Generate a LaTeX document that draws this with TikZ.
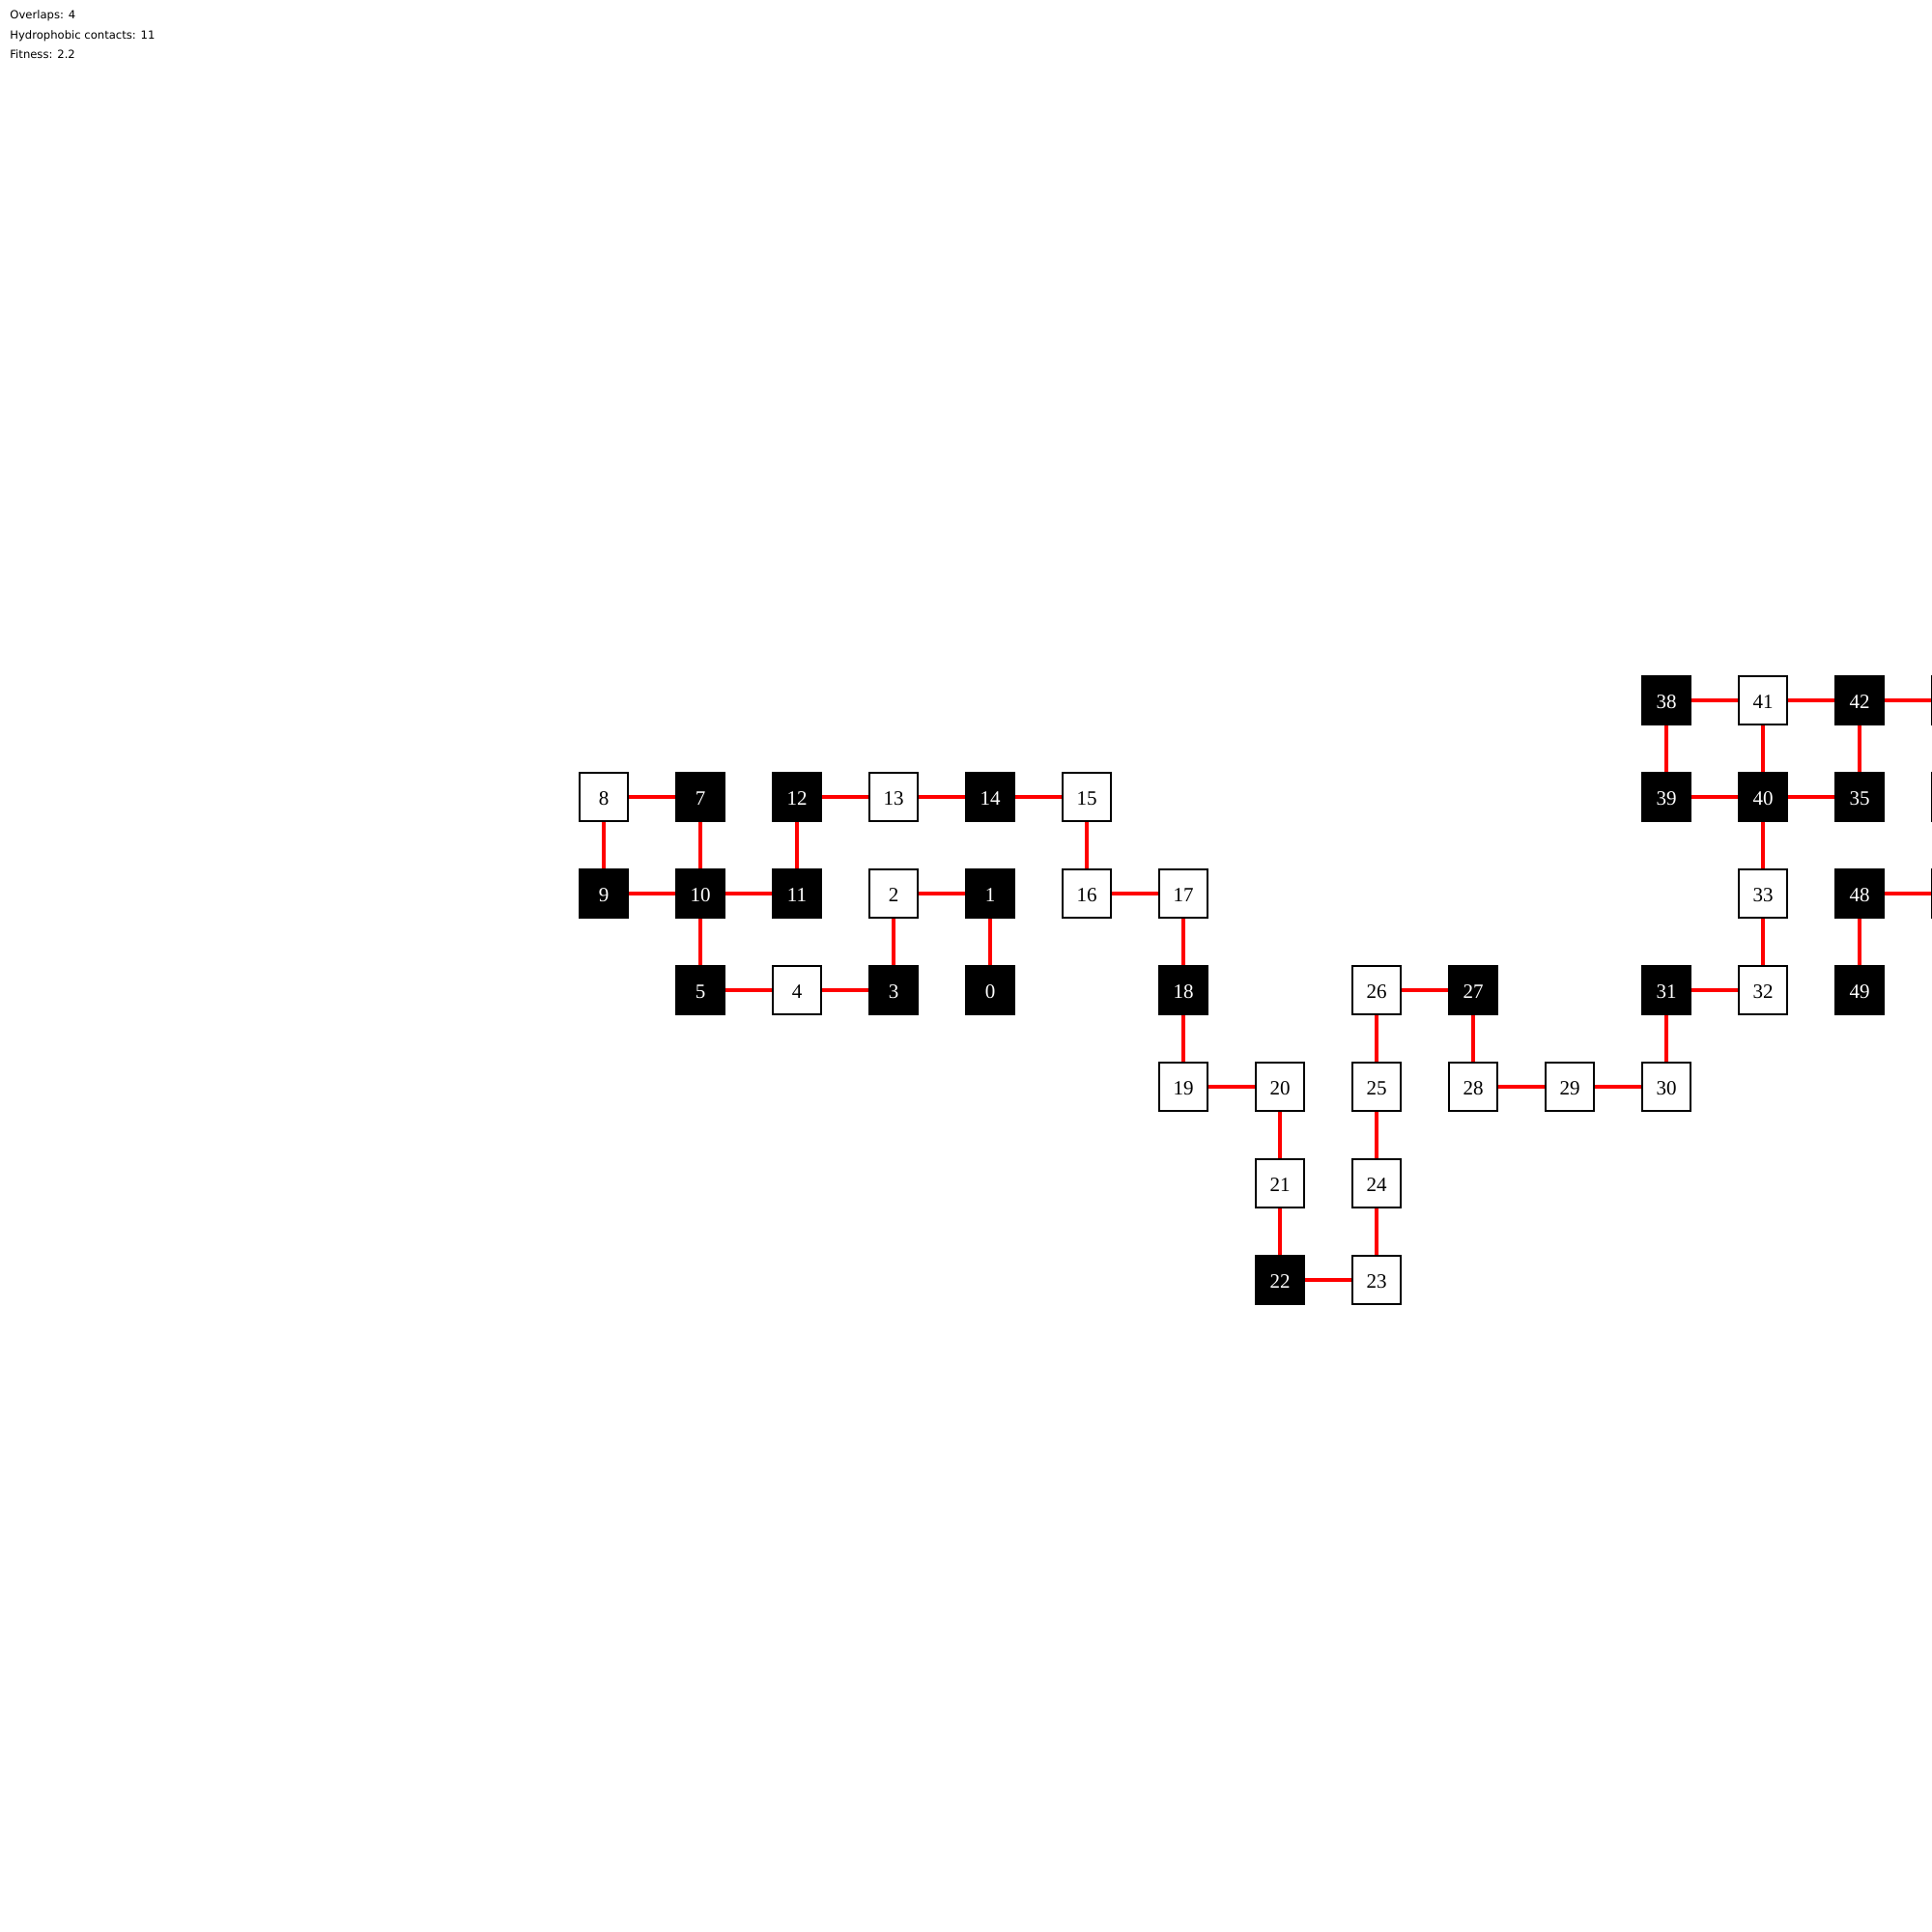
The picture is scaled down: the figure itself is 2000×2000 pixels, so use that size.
\documentclass[tikz,border=0pt]{standalone}
\usepackage{fontspec}
\setmainfont{Liberation Serif}
\newfontfamily\infofont{DejaVu Sans}
\begin{document}
\begin{tikzpicture}[x=0.5pt,y=-0.5pt,
  wbox/.style={draw=black, line width=0.8pt, fill=white, text=black, minimum size=25.2pt, inner sep=0pt, text height=8.6pt, text depth=0pt, font=\fontsize{10.5}{12}\selectfont},
  bbox/.style={wbox, fill=black, text=white},
  bond/.style={red, line width=2pt},
  info/.style={anchor=base west, inner sep=0pt, font=\infofont\fontsize{5.8}{7}\selectfont}]
\clip (0,0) rectangle (2000,2000);
\fill[white] (0,0) rectangle (2000,2000);
\node[info] (ov) at (10,20) {Overlaps: 4};
\node[info] (hc) at (10,40.5) {Hydrophobic contacts: 11};
\node[info] (fi) at (10,61) {Fitness: 2.2};
% hidden (overlapped) residues
\node[bbox] (n6)  at (725,925) {};
\node[bbox] (n34) at (1825,825) {};
\node[bbox] (n36) at (1925,725) {};
\node[bbox] (n37) at (1825,725) {};
% visible residues
\node[bbox] (n0)  at (1025,1025) {0};
\node[bbox] (n1)  at (1025,925) {1};
\node[wbox] (n2)  at (925,925) {2};
\node[bbox] (n3)  at (925,1025) {3};
\node[wbox] (n4)  at (825,1025) {4};
\node[bbox] (n5)  at (725,1025) {5};
\node[bbox] (n7)  at (725,825) {7};
\node[wbox] (n8)  at (625,825) {8};
\node[bbox] (n9)  at (625,925) {9};
\node[bbox] (n10) at (725,925) {10};
\node[bbox] (n11) at (825,925) {11};
\node[bbox] (n12) at (825,825) {12};
\node[wbox] (n13) at (925,825) {13};
\node[bbox] (n14) at (1025,825) {14};
\node[wbox] (n15) at (1125,825) {15};
\node[wbox] (n16) at (1125,925) {16};
\node[wbox] (n17) at (1225,925) {17};
\node[bbox] (n18) at (1225,1025) {18};
\node[wbox] (n19) at (1225,1125) {19};
\node[wbox] (n20) at (1325,1125) {20};
\node[wbox] (n21) at (1325,1225) {21};
\node[bbox] (n22) at (1325,1325) {22};
\node[wbox] (n23) at (1425,1325) {23};
\node[wbox] (n24) at (1425,1225) {24};
\node[wbox] (n25) at (1425,1125) {25};
\node[wbox] (n26) at (1425,1025) {26};
\node[bbox] (n27) at (1525,1025) {27};
\node[wbox] (n28) at (1525,1125) {28};
\node[wbox] (n29) at (1625,1125) {29};
\node[wbox] (n30) at (1725,1125) {30};
\node[bbox] (n31) at (1725,1025) {31};
\node[wbox] (n32) at (1825,1025) {32};
\node[wbox] (n33) at (1825,925) {33};
\node[bbox] (n35) at (1925,825) {35};
\node[bbox] (n38) at (1725,725) {38};
\node[bbox] (n39) at (1725,825) {39};
\node[bbox] (n40) at (1825,825) {40};
\node[wbox] (n41) at (1825,725) {41};
\node[bbox] (n42) at (1925,725) {42};
\node[wbox] (n43) at (2025,725) {};
\node[wbox] (n44) at (2025,825) {};
\node[wbox] (n47) at (2025,925) {};
\node[bbox] (n48) at (1925,925) {48};
\node[bbox] (n49) at (1925,1025) {49};
% bonds
\draw[bond] (n0) -- (n1);
\draw[bond] (n1) -- (n2);
\draw[bond] (n2) -- (n3);
\draw[bond] (n3) -- (n4);
\draw[bond] (n4) -- (n5);
\draw[bond] (n5) -- (n6);
\draw[bond] (n6) -- (n7);
\draw[bond] (n7) -- (n8);
\draw[bond] (n8) -- (n9);
\draw[bond] (n9) -- (n10);
\draw[bond] (n10) -- (n11);
\draw[bond] (n11) -- (n12);
\draw[bond] (n12) -- (n13);
\draw[bond] (n13) -- (n14);
\draw[bond] (n14) -- (n15);
\draw[bond] (n15) -- (n16);
\draw[bond] (n16) -- (n17);
\draw[bond] (n17) -- (n18);
\draw[bond] (n18) -- (n19);
\draw[bond] (n19) -- (n20);
\draw[bond] (n20) -- (n21);
\draw[bond] (n21) -- (n22);
\draw[bond] (n22) -- (n23);
\draw[bond] (n23) -- (n24);
\draw[bond] (n24) -- (n25);
\draw[bond] (n25) -- (n26);
\draw[bond] (n26) -- (n27);
\draw[bond] (n27) -- (n28);
\draw[bond] (n28) -- (n29);
\draw[bond] (n29) -- (n30);
\draw[bond] (n30) -- (n31);
\draw[bond] (n31) -- (n32);
\draw[bond] (n32) -- (n33);
\draw[bond] (n33) -- (n34);
\draw[bond] (n34) -- (n35);
\draw[bond] (n35) -- (n36);
\draw[bond] (n36) -- (n37);
\draw[bond] (n37) -- (n38);
\draw[bond] (n38) -- (n39);
\draw[bond] (n39) -- (n40);
\draw[bond] (n40) -- (n41);
\draw[bond] (n41) -- (n42);
\draw[bond] (n42) -- (n43);
\draw[bond] (n47) -- (n48);
\draw[bond] (n48) -- (n49);
\end{tikzpicture}
\end{document}
